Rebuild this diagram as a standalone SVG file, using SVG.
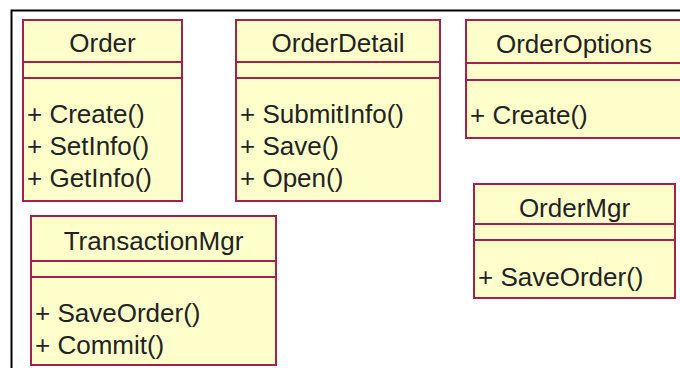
<svg xmlns="http://www.w3.org/2000/svg" width="680" height="368" viewBox="0 0 680 368">
<style>
.box{fill:#ffffcc;stroke:#a3224c;stroke-width:2}
.sep{stroke:#a3224c;stroke-width:2}
.t{font-family:"Liberation Sans",Arial,sans-serif;font-size:26px;fill:#222}
.c{text-anchor:middle}
</style>
<rect x="0" y="0" width="680" height="368" fill="#ffffff"/>
<path d="M11.5 369 V10.5 H681" fill="none" stroke="#000" stroke-width="2"/>
<g id="Order">
<rect class="box" x="23" y="20" width="159" height="181"/>
<line class="sep" x1="23" y1="62" x2="182" y2="62"/>
<line class="sep" x1="23" y1="78" x2="182" y2="78"/>
<text class="t c" x="102.5" y="52">Order</text>
<text class="t" x="27" y="123">+ Create()</text>
<text class="t" x="27" y="155">+ SetInfo()</text>
<text class="t" x="27" y="187">+ GetInfo()</text>
</g>
<g id="OrderDetail">
<rect class="box" x="236" y="20" width="204" height="181"/>
<line class="sep" x1="236" y1="62" x2="440" y2="62"/>
<line class="sep" x1="236" y1="78" x2="440" y2="78"/>
<text class="t c" x="338" y="52">OrderDetail</text>
<text class="t" x="240" y="123">+ SubmitInfo()</text>
<text class="t" x="240" y="155">+ Save()</text>
<text class="t" x="240" y="187">+ Open()</text>
</g>
<g id="OrderOptions">
<rect class="box" x="466" y="20" width="230" height="118"/>
<line class="sep" x1="466" y1="63" x2="696" y2="63"/>
<line class="sep" x1="466" y1="80" x2="696" y2="80"/>
<text class="t c" x="574" y="53">OrderOptions</text>
<text class="t" x="470" y="124">+ Create()</text>
</g>
<g id="OrderMgr">
<rect class="box" x="474" y="184" width="201" height="114"/>
<line class="sep" x1="474" y1="224" x2="675" y2="224"/>
<line class="sep" x1="474" y1="240" x2="675" y2="240"/>
<text class="t c" x="574.5" y="217">OrderMgr</text>
<text class="t" x="478" y="286">+ SaveOrder()</text>
</g>
<g id="TransactionMgr">
<rect class="box" x="31" y="216" width="245" height="149"/>
<line class="sep" x1="31" y1="261" x2="276" y2="261"/>
<line class="sep" x1="31" y1="277" x2="276" y2="277"/>
<text class="t c" x="153.5" y="250">TransactionMgr</text>
<text class="t" x="35" y="322">+ SaveOrder()</text>
<text class="t" x="35" y="354">+ Commit()</text>
</g>
<g id="connectors"/>
</svg>
